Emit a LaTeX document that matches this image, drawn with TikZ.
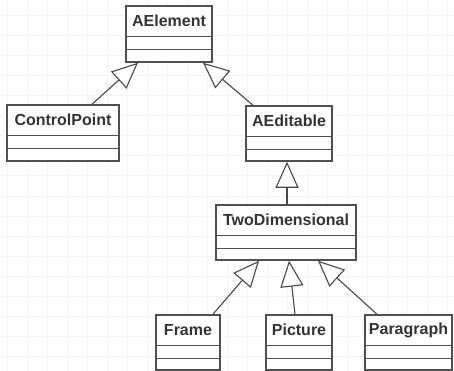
\documentclass[tikz,border=0pt]{standalone}
\usepackage{fontspec}
\setmainfont{Liberation Sans}
\usetikzlibrary{arrows.meta}
\definecolor{gridc}{HTML}{F4F4F4}
\definecolor{boxc}{HTML}{505050}
\definecolor{txtc}{HTML}{333333}
\tikzset{
  cls/.style={draw=boxc, line width=1.5pt, fill=white, rectangle, inner sep=0pt},
  sep/.style={draw=boxc, line width=1.3pt},
  title/.style={text=txtc, font=\bfseries\fontsize{16}{18}\selectfont, inner sep=0pt},
  inherit/.style={draw=boxc!90!black, line width=1.1pt,
    -{Triangle[length=26pt, width=23pt, fill=white, line width=1.1pt]}},
}
% one class box: name, centre x, centre y, width, height, title text
\newcommand{\umlbox}[6]{%
  \node[cls, minimum width=#4pt, minimum height=#5pt] (#1) at (#2,#3) {};
  \draw[sep] ([yshift=-31.5pt]#1.north west) -- ([yshift=-31.5pt]#1.north east);
  \draw[sep] ([yshift=-44pt]#1.north west) -- ([yshift=-44pt]#1.north east);
  \node[title] (#1T) at ([yshift=-16pt]#1.north) {#6};
}
\begin{document}
\begin{tikzpicture}[x=1pt, y=-1pt]
  \useasboundingbox (0,0) rectangle (454,371);
  \fill[white] (0,0) rectangle (454,371);
  % background grid
  \foreach \gx in {7,27,...,447} \draw[gridc, line width=1pt] (\gx,0) -- (\gx,371);
  \foreach \gy in {16,36,...,371} \draw[gridc, line width=1pt] (0,\gy) -- (454,\gy);

  % classes
  \umlbox{ae}{169}{34}{86}{56}{AElement}
  \umlbox{cp}{63}{133}{112}{56}{ControlPoint}
  \umlbox{aed}{289}{133.5}{86}{55}{AEditable}
  \umlbox{td}{286}{232.5}{140}{55}{TwoDimensional}
  \umlbox{fr}{188}{342.5}{64}{55}{Frame}
  \umlbox{pic}{299}{342.5}{66}{55}{Picture}
  \umlbox{par}{408.5}{342.5}{87}{55}{Paragraph}

  % generalisation arrows
  \draw[inherit] ([xshift=29pt]cp.north) -- ([xshift=-31pt]ae.south);
  \draw[inherit] ([xshift=-36pt]aed.north) -- ([xshift=34pt]ae.south);
  \draw[inherit] ([xshift=1pt]td.north) -- ([xshift=-2pt]aed.south);
  \draw[inherit] ([xshift=25pt]fr.north) -- ([xshift=-27pt]td.south);
  \draw[inherit] ([xshift=-4pt]pic.north) -- ([xshift=3pt]td.south);
  \draw[inherit] ([xshift=-31.5pt]par.north) -- ([xshift=32pt]td.south);
\end{tikzpicture}
\end{document}
